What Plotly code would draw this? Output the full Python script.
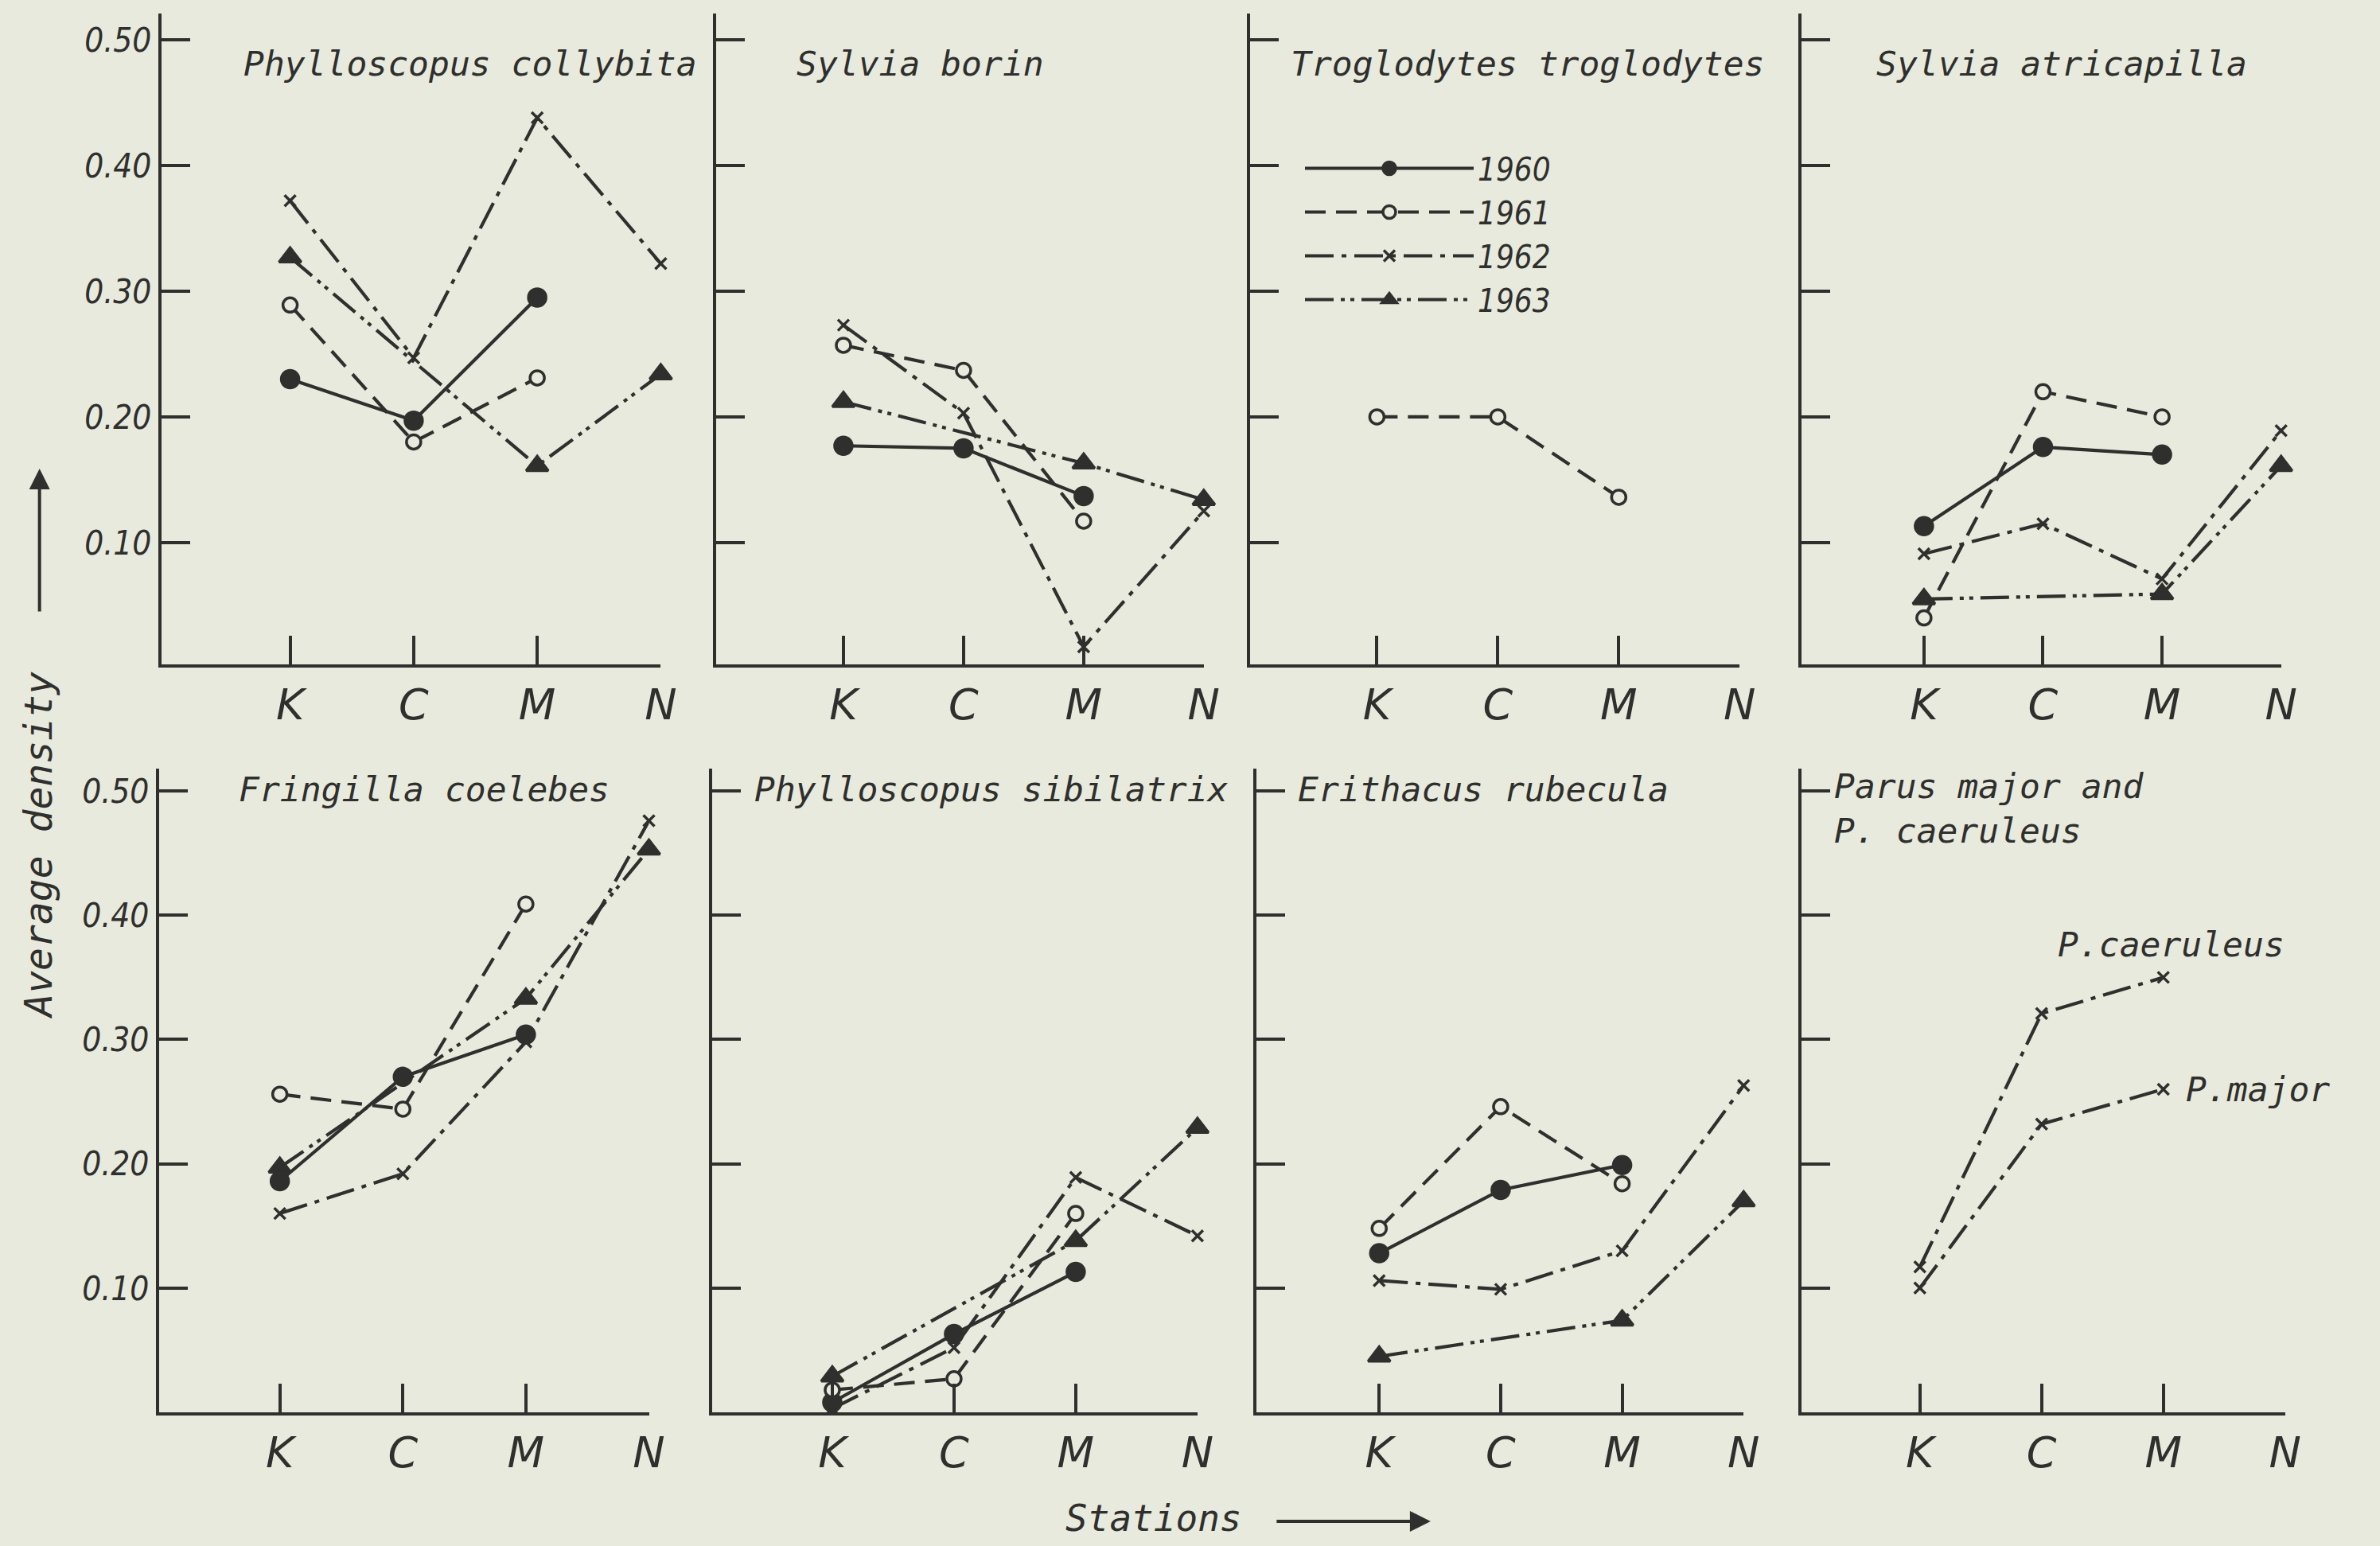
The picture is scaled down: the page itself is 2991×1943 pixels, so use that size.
import plotly.graph_objects as go

# ---------------- data ----------------
stations = ["K", "C", "M", "N"]
years = ["1960", "1961", "1962", "1963"]
ytick_vals = [0.1, 0.2, 0.3, 0.4, 0.5]
ytick_text = ["0.10", "0.20", "0.30", "0.40", "0.50"]

collybita_1960 = [0.230, 0.197, 0.295, None]
collybita_1961 = [0.289, 0.180, 0.231, None]
collybita_1962 = [0.372, 0.247, 0.438, 0.322]
collybita_1963 = [0.327, None, 0.161, 0.234]

borin_1960 = [0.177, 0.175, 0.137, None]
borin_1961 = [0.257, 0.237, 0.117, None]
borin_1962 = [0.273, 0.203, 0.017, 0.125]
borin_1963 = [0.212, None, 0.163, 0.134]

troglodytes_1961 = [0.200, 0.200, 0.136, None]

atricapilla_1960 = [0.113, 0.176, 0.170, None]
atricapilla_1961 = [0.040, 0.220, 0.200, None]
atricapilla_1962 = [0.091, 0.115, 0.071, 0.189]
atricapilla_1963 = [0.055, None, 0.059, 0.161]

coelebes_1960 = [0.186, 0.270, 0.304, None]
coelebes_1961 = [0.256, 0.244, 0.409, None]
coelebes_1962 = [0.160, 0.192, 0.298, 0.476]
coelebes_1963 = [0.197, None, 0.333, 0.453]

sibilatrix_1960 = [0.008, 0.063, 0.113, None]
sibilatrix_1961 = [0.018, 0.027, 0.160, None]
sibilatrix_1962 = [0.003, 0.052, 0.189, 0.142]
sibilatrix_1963 = [0.029, None, 0.138, 0.229]

rubecula_1960 = [0.128, 0.179, 0.199, None]
rubecula_1961 = [0.148, 0.246, 0.184, None]
rubecula_1962 = [0.106, 0.099, 0.130, 0.263]
rubecula_1963 = [0.045, None, 0.074, 0.170]

parus_caeruleus = [0.117, 0.321, 0.350, None]
parus_major = [0.100, 0.232, 0.260, None]

titles = ["Phylloscopus collybita", "Sylvia borin", "Troglodytes troglodytes",
          "Sylvia atricapilla", "Fringilla coelebes", "Phylloscopus sibilatrix",
          "Erithacus rubecula", "Parus major and<br>P. caeruleus"]

# ---------------- style ----------------
W, H = 2991, 1943
BG = "#e8eadd"
INK = "#2f2f2d"
NUMFONT = "DejaVu Sans Condensed, Liberation Sans Narrow, sans-serif"
TXTFONT = "DejaVu Sans Mono, monospace"
TICKFONT = "DejaVu Sans, sans-serif"

year_style = {
    "1960": dict(dash="solid", symbol="circle", size=22, fill=INK),
    "1961": dict(dash="26px,13px", symbol="circle", size=18, fill=BG),
    "1962": dict(dash="36px,10px,6px,10px", symbol="x-thin", size=14, fill=INK),
    "1963": dict(dash="36px,9px,5px,7px,5px,9px", symbol="triangle-up", size=24, fill=INK),
}

# panel geometry in pixels: (y-axis x, N x, left range offset)
px_x = [(204, 836, -1.043), (906, 1523, -1.06), (1582, 2201, -1.046), (2279, 2886, -1.03),
        (201, 821, -0.983), (901, 1515, -0.987), (1590, 2206, -1.008), (2279, 2891, -0.974)]
rows_px = [(17, 835, 0.003, 0.521), (966, 1775, 0.0, 0.518)]

fig = go.Figure()


def add_series(panel, values, year, show_legend=False, name=None):
    st = year_style[year]
    fig.add_trace(go.Scatter(
        x=stations, y=values, mode="lines+markers",
        name=name or year, legendgroup=year, showlegend=show_legend,
        connectgaps=True, cliponaxis=False,
        line=dict(color=INK, width=4.2, dash=st["dash"]),
        marker=dict(symbol=st["symbol"], size=st["size"], color=st["fill"],
                    line=dict(color=INK, width=3.5)),
        xaxis=f"x{panel}", yaxis=f"y{panel}",
    ))


panels = [
    {"1960": collybita_1960, "1961": collybita_1961, "1962": collybita_1962, "1963": collybita_1963},
    {"1960": borin_1960, "1961": borin_1961, "1962": borin_1962, "1963": borin_1963},
    {"1961": troglodytes_1961},
    {"1960": atricapilla_1960, "1961": atricapilla_1961, "1962": atricapilla_1962, "1963": atricapilla_1963},
    {"1960": coelebes_1960, "1961": coelebes_1961, "1962": coelebes_1962, "1963": coelebes_1963},
    {"1960": sibilatrix_1960, "1961": sibilatrix_1961, "1962": sibilatrix_1962, "1963": sibilatrix_1963},
    {"1960": rubecula_1960, "1961": rubecula_1961, "1962": rubecula_1962, "1963": rubecula_1963},
]

for i, series in enumerate(panels, start=1):
    for yr, vals in series.items():
        add_series(i, vals, yr, show_legend=(i == 1))

add_series(8, parus_caeruleus, "1962", name="P.caeruleus")
add_series(8, parus_major, "1962", name="P.major")

layout = dict(
    width=W, height=H, margin=dict(l=0, r=0, t=0, b=0),
    paper_bgcolor=BG, plot_bgcolor=BG,
    font=dict(family=NUMFONT, color=INK, style="italic"),
    showlegend=True,
    legend=dict(x=1646 / W, y=1 - 179 / H, xanchor="left", yanchor="top",
                bgcolor="rgba(0,0,0,0)",
                font=dict(size=40, family=NUMFONT, style="italic", color=INK),
                itemwidth=212, tracegroupgap=0),
)

for i in range(1, 9):
    x0, x1, off = px_x[i - 1]
    ytop, ybot, vmin, vmax = rows_px[0] if i <= 4 else rows_px[1]
    layout[f"xaxis{i}"] = dict(
        domain=[x0 / W, x1 / W], anchor=f"y{i}", type="category",
        categoryorder="array", categoryarray=stations, range=[off, 3],
        showline=True, linecolor=INK, linewidth=4, showgrid=False, zeroline=False,
        ticks="inside", ticklen=36, tickwidth=3.5, tickcolor=INK,
        tickfont=dict(size=54, family=TICKFONT, style="italic", color=INK),
    )
    layout[f"yaxis{i}"] = dict(
        domain=[1 - ybot / H, 1 - ytop / H], anchor=f"x{i}", range=[vmin, vmax],
        showline=True, linecolor=INK, linewidth=4, showgrid=False, zeroline=False,
        ticks="inside", ticklen=36, tickwidth=3.5, tickcolor=INK,
        tickvals=ytick_vals, ticktext=ytick_text,
        showticklabels=(i in (1, 5)),
        tickfont=dict(size=42, family=NUMFONT, style="italic", color=INK),
    )

fig.update_layout(**layout)

# panel titles
title_pos = [(306, 80), (1006, 80), (1631, 80), (2372, 80),
             (300, 992), (952, 992), (1640, 992), (2318, 992)]
TITLE_FONT = dict(size=43, family=TXTFONT, style="italic", color=INK)
for t, (tx, ty) in zip(titles, title_pos):
    multi = "<br>" in t
    fig.add_annotation(text=t, xref="paper", yref="paper", x=tx / W, y=1 - ty / H,
                       xanchor="left", yanchor="top" if multi else "middle",
                       yshift=31 if multi else 0,
                       align="left", showarrow=False, font=TITLE_FONT)

# Parus line labels, anchored to the data
fig.add_annotation(text="P.caeruleus", xref="x8", yref="y8", x="M", y=parus_caeruleus[2],
                   xanchor="center", yanchor="bottom", yshift=14, xshift=10, showarrow=False,
                   font=TITLE_FONT)
fig.add_annotation(text="P.major", xref="x8", yref="y8", x="M", y=parus_major[2],
                   xanchor="left", yanchor="middle", xshift=26, showarrow=False,
                   font=TITLE_FONT)

# axis titles with arrows
fig.add_annotation(text="Average density", xref="paper", yref="paper",
                   x=48 / W, y=1 - 1062 / H, textangle=-90, showarrow=False,
                   xanchor="center", yanchor="middle",
                   font=dict(size=48, family=TXTFONT, style="italic", color=INK))
fig.add_annotation(text="", xref="paper", yref="paper", x=50 / W, y=1 - 589 / H,
                   ax=0, ay=181, showarrow=True, arrowhead=2, arrowsize=1.3,
                   arrowwidth=4, arrowcolor=INK)
fig.add_annotation(text="Stations", xref="paper", yref="paper",
                   x=1460 / W, y=1 - 1908 / H, showarrow=False,
                   xanchor="center", yanchor="middle",
                   font=dict(size=46, family=TXTFONT, style="italic", color=INK))
fig.add_annotation(text="", xref="paper", yref="paper", x=1810 / W, y=1 - 1912 / H,
                   ax=-195, ay=0, showarrow=True, arrowhead=2, arrowsize=1.3,
                   arrowwidth=4, arrowcolor=INK)

fig.write_html("out.html")
